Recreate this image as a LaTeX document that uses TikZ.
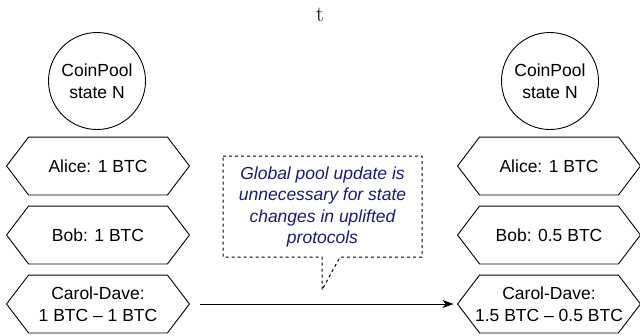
\documentclass[tikz,border=0pt]{standalone}
\usepackage{fontspec}
\newfontfamily\arial{Liberation Sans}
\usetikzlibrary{arrows.meta}
\definecolor{notecol}{RGB}{26,26,122}
\newcommand\hexpath[1]{\draw (#1.west) -- ([xshift=22pt]#1.north west) -- ([xshift=-22pt]#1.north east) -- (#1.east) -- ([xshift=-22pt]#1.south east) -- ([xshift=22pt]#1.south west) -- cycle;}
\begin{document}
\begin{tikzpicture}[x=1pt,y=-1pt,line width=0.9pt,
  sanstext/.style={font=\arial\fontsize{17.5}{21.5}\selectfont, align=center, inner sep=0pt},
  hexbox/.style={sanstext, minimum width=182pt, minimum height=57pt},
  poolcirc/.style={sanstext, draw, circle, minimum size=97pt},
  notetext/.style={font=\arial\itshape\fontsize{17.5}{21.5}\selectfont, align=center, inner sep=0pt, text=notecol}]
\useasboundingbox (0,0) rectangle (640,335);
\node (t) at (320,15) {\fontsize{22}{26}\selectfont t};
% left column
\node[poolcirc] (lc) at (97,81) {CoinPool\\state N};
\node[hexbox] (la) at (98,166) {Alice: 1 BTC};
\node[hexbox] (lb) at (98,235) {Bob: 1 BTC};
\node[hexbox] (lcd) at (98,304) {Carol-Dave:\\1 BTC – 1 BTC};
\hexpath{la}\hexpath{lb}\hexpath{lcd}
% right column
\node[poolcirc] (rc) at (550,81) {CoinPool\\state N};
\node[hexbox] (ra) at (549,166) {Alice: 1 BTC};
\node[hexbox] (rb) at (549,235) {Bob: 0.5 BTC};
\node[hexbox] (rcd) at (549,304) {Carol-Dave:\\1.5 BTC – 0.5 BTC};
\hexpath{ra}\hexpath{rb}\hexpath{rcd}
% arrow
\draw[-{Stealth[length=11pt,width=8pt,inset=3pt]}, shorten <=11pt, shorten >=4pt] (lcd.east) -- (rcd.west);
% callout
\draw[dash pattern=on 3pt off 3pt, line width=1pt] (223,156) -- (422,156) -- (422,257) -- (340,257) -- (322,290) -- (322,257) -- (223,257) -- cycle;
\node[notetext] (note) at (322.5,207) {Global pool update is\\unnecessary for state\\changes in uplifted\\protocols};
\end{tikzpicture}
\end{document}
